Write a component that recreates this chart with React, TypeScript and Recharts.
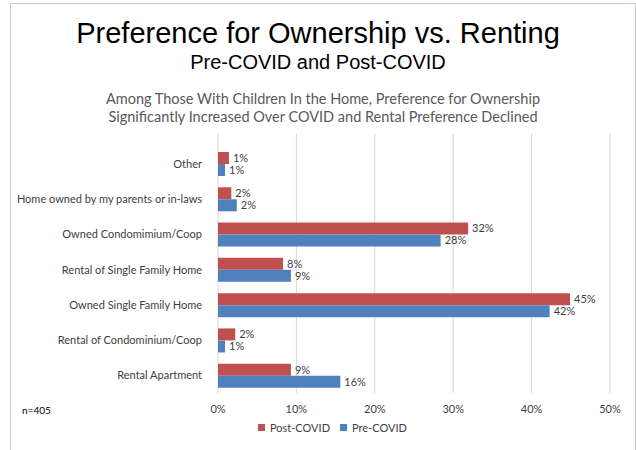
import React from 'react';
import { BarChart, Bar, XAxis, YAxis, CartesianGrid, LabelList } from 'recharts';

const categories = [
  'Other',
  'Home owned by my parents or in-laws',
  'Owned Condomimium/Coop',
  'Rental of Single Family Home',
  'Owned Single Family Home',
  'Rental of Condominium/Coop',
  'Rental Apartment',
];
const postCovid = [1.4, 1.7, 31.9, 8.3, 44.9, 2.2, 9.3];
const preCovid = [0.9, 2.4, 28.4, 9.3, 42.3, 0.9, 15.6];
const xTicks = [0, 10, 20, 30, 40, 50];
const seriesNames = ['Post-COVID', 'Pre-COVID'];

const chartData = categories.map((name, i) => ({
  name,
  post: postCovid[i],
  pre: preCovid[i],
}));

const RED = '#C0504D';
const BLUE = '#4F81BD';
const TEXT = '#404040';
const FONT = 'Lato, "Open Sans", sans-serif';

const pct = (v: any) => `${Math.round(Number(v))}%`;

// plain tick so long names do not wrap
const CategoryTick = ({ x, y, payload }: any) => (
  <text
    x={x}
    y={y}
    dy={4}
    textAnchor="end"
    fill={TEXT}
    fontSize={11}
    fontFamily={FONT}
  >
    {payload.value}
  </text>
);

const App: React.FC = () => {
  return (
    <div
      style={{
        position: 'fixed',
        left: 0,
        top: 0,
        width: 636,
        height: 450,
        background: '#fff',
        overflow: 'hidden',
      }}
    >
      <div
        style={{
          position: 'absolute',
          left: 10,
          top: 3,
          width: 624,
          height: 460,
          borderLeft: '1px solid #c9cad3',
          borderTop: '1px solid #c9cad3',
          borderRight: '1px solid #c9cad3',
        }}
      />
      <div
        style={{
          position: 'absolute',
          top: 16,
          width: 636,
          textAlign: 'center',
          fontFamily: '"Liberation Sans", Arial, sans-serif',
          fontSize: 29,
          lineHeight: '34px',
          color: '#000',
        }}
      >
        Preference for Ownership vs. Renting
      </div>
      <div
        style={{
          position: 'absolute',
          top: 50,
          width: 636,
          textAlign: 'center',
          fontFamily: '"Liberation Sans", Arial, sans-serif',
          fontSize: 20,
          lineHeight: '24px',
          color: '#000',
        }}
      >
        Pre-COVID and Post-COVID
      </div>
      <div
        style={{
          position: 'absolute',
          top: 90,
          width: 646,
          textAlign: 'center',
          fontFamily: FONT,
          fontSize: 14.5,
          lineHeight: '18px',
          color: '#595959',
        }}
      >
        Among Those With Children In the Home, Preference for Ownership
        <br />
        Significantly Increased Over COVID and Rental Preference Declined
      </div>
      <div
        style={{
          position: 'absolute',
          left: 22,
          top: 404,
          fontFamily: FONT,
          fontSize: 10,
          color: '#000',
        }}
      >
        n=405
      </div>
      <div
        style={{
          position: 'absolute',
          left: 258,
          top: 421,
          display: 'flex',
          gap: 10,
          fontFamily: FONT,
          fontSize: 11,
          color: TEXT,
        }}
      >
        {seriesNames.map((s, i) => (
          <span key={s} style={{ display: 'flex', alignItems: 'center' }}>
            <span
              style={{
                width: 7,
                height: 7,
                background: i === 0 ? RED : BLUE,
                marginRight: 5,
              }}
            />
            {s}
          </span>
        ))}
      </div>
      <div style={{ position: 'absolute', left: 0, top: 0 }}>
        <BarChart
          width={636}
          height={450}
          data={chartData}
          layout="vertical"
          margin={{ top: 134, right: 26, bottom: 37, left: 0 }}
          barGap={0}
          barCategoryGap={6}
        >
          <CartesianGrid horizontal={false} stroke="#d9d9d9" />
          <XAxis
            type="number"
            domain={[0, 50]}
            ticks={xTicks}
            tickFormatter={pct}
            axisLine={false}
            tickLine={false}
            tickMargin={6}
            height={20}
            tick={{ fill: TEXT, fontSize: 11, fontFamily: FONT }}
          />
          <YAxis
            type="category"
            dataKey="name"
            width={218}
            axisLine={false}
            tickLine={false}
            tickMargin={10}
            padding={{ top: 12, bottom: 0 }}
            interval={0}
            tick={<CategoryTick />}
          />
          <Bar dataKey="post" name={seriesNames[0]} fill={RED} isAnimationActive={false}>
            <LabelList
              dataKey="post"
              position="right"
              offset={4}
              formatter={pct}
              style={{ fill: TEXT, fontSize: 11, fontFamily: FONT }}
            />
          </Bar>
          <Bar dataKey="pre" name={seriesNames[1]} fill={BLUE} isAnimationActive={false}>
            <LabelList
              dataKey="pre"
              position="right"
              offset={4}
              formatter={pct}
              style={{ fill: TEXT, fontSize: 11, fontFamily: FONT }}
            />
          </Bar>
        </BarChart>
      </div>
    </div>
  );
};

export default App;
